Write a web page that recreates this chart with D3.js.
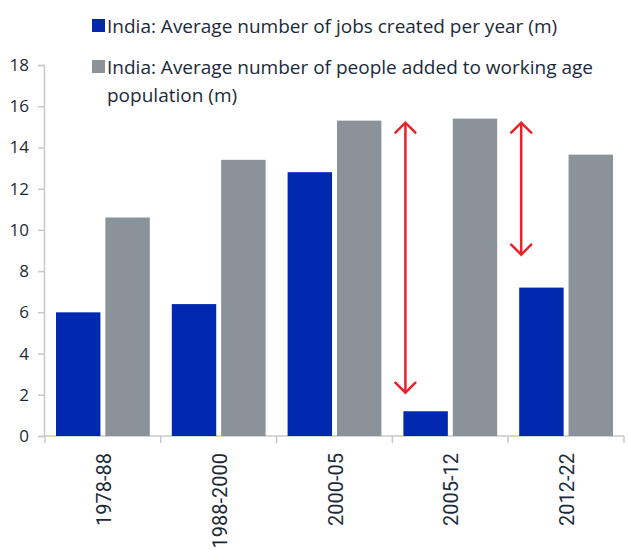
<!DOCTYPE html>
<html>
  <head>
    <style>
      html, body {
        padding: 0;
        margin: 0;
        overflow: hidden;
        background: #ffffff;
      }
      text {
        font-family: "Open Sans", sans-serif;
        fill: #1b2a3a;
      }
      .axis path, .axis line {
        stroke: #c8c8c8;
        stroke-width: 1.5;
      }
    </style>
  </head>
  <body>
    <div id="chart"></div>
    <script src="https://cdnjs.cloudflare.com/ajax/libs/d3/7.8.5/d3.min.js"></script>
    <script>
      // data
      let periods = ['1978-88', '1988-2000', '2000-05', '2005-12', '2012-22']
      let jobsCreated = [6.0, 6.4, 12.8, 1.2, 7.2]
      let workingAgeAdded = [10.6, 13.4, 15.3, 15.4, 13.65]
      let seriesNames = [
        'India: Average number of jobs created per year (m)',
        'India: Average number of people added to working age population (m)'
      ]
      let yTicks = [0, 2, 4, 6, 8, 10, 12, 14, 16, 18]
      // red gap arrows: period, from, to
      let arrowPeriods = ['2005-12', '2012-22']
      let arrowFrom = [2.1, 8.8]
      let arrowTo = [15.2, 15.2]

      let blue = '#0029b0'
      let grey = '#899399'
      let red = '#e8212b'

      let width = 628
      let height = 550
      let margin = { top: 65, left: 45, right: 4, bottom: 114 }

      let svg = d3.select('#chart')
        .append('svg')
        .attr('width', width)
        .attr('height', height)

      let x = d3.scaleBand()
        .domain(periods)
        .range([margin.left, width - margin.right])

      let y = d3.scaleLinear()
        .domain([0, 18])
        .range([height - margin.bottom, margin.top])

      let inner = d3.scaleBand()
        .domain([0, 1])
        .range([11, x.bandwidth() - 11])
        .paddingInner(0.1)

      // y axis
      let yAxis = svg.append('g')
        .attr('class', 'axis')
        .attr('transform', 'translate(' + (margin.left - 1) + ',0)')
        .call(d3.axisLeft(y).tickValues(yTicks).tickSize(6).tickPadding(9))
      yAxis.selectAll('text').style('font-size', '17px')

      // x axis, ticks at band edges
      let xAxis = svg.append('g')
        .attr('class', 'axis')
        .attr('transform', 'translate(0,' + y(0) + ')')
      xAxis.append('line')
        .attr('x1', margin.left - 1).attr('x2', width - margin.right)
        .attr('y1', 0).attr('y2', 0)
      xAxis.selectAll('.edge')
        .data(periods.concat(['end']))
        .enter().append('line')
        .attr('class', 'edge')
        .attr('x1', (d, i) => i < periods.length ? x(d) : x.range()[1])
        .attr('x2', (d, i) => i < periods.length ? x(d) : x.range()[1])
        .attr('y1', 0).attr('y2', 7)
      xAxis.selectAll('.lbl')
        .data(periods)
        .enter().append('text')
        .attr('class', 'lbl')
        .attr('text-anchor', 'end')
        .attr('transform', d => 'translate(' + (x(d) + x.bandwidth() / 2 + 8) + ',17) rotate(-90)')
        .style('font-family', 'Roboto, sans-serif')
        .style('font-size', '20px')
        .text(d => d)

      // bars
      let groups = svg.selectAll('.period')
        .data(periods)
        .enter().append('g')
        .attr('transform', d => 'translate(' + x(d) + ',0)')

      groups.append('rect')
        .attr('x', inner(0))
        .attr('width', inner.bandwidth())
        .attr('y', (d, i) => y(jobsCreated[i]))
        .attr('height', (d, i) => y(0) - y(jobsCreated[i]))
        .attr('fill', blue)

      groups.append('rect')
        .attr('x', inner(1))
        .attr('width', inner.bandwidth())
        .attr('y', (d, i) => y(workingAgeAdded[i]))
        .attr('height', (d, i) => y(0) - y(workingAgeAdded[i]))
        .attr('fill', grey)

      // arrows
      arrowPeriods.forEach(function(p, i) {
        let ax = x(p) + inner(0) + 2
        let y1 = y(arrowTo[i])
        let y2 = y(arrowFrom[i])
        let g = svg.append('g')
          .attr('stroke', red)
          .attr('stroke-width', 2.5)
          .attr('fill', 'none')
          .attr('stroke-linecap', 'round')
        g.append('line').attr('x1', ax).attr('x2', ax).attr('y1', y1 + 1).attr('y2', y2 - 1)
        g.append('path').attr('d', 'M' + (ax - 10) + ',' + (y1 + 10) + 'L' + ax + ',' + y1 + 'L' + (ax + 10) + ',' + (y1 + 10))
        g.append('path').attr('d', 'M' + (ax - 10) + ',' + (y2 - 10) + 'L' + ax + ',' + y2 + 'L' + (ax + 10) + ',' + (y2 - 10))
      })

      // legend
      let legend = svg.append('g')
      legend.append('rect')
        .attr('x', 92).attr('y', 19).attr('width', 13).attr('height', 13)
        .attr('fill', blue)
      legend.append('text')
        .attr('x', 107).attr('y', 33)
        .style('font-size', '19px')
        .text(seriesNames[0])
      legend.append('rect')
        .attr('x', 92).attr('y', 60).attr('width', 13).attr('height', 13)
        .attr('fill', grey)
      let t2 = legend.append('text')
        .attr('x', 107).attr('y', 74)
        .style('font-size', '19px')
      t2.append('tspan').attr('x', 107).text('India: Average number of people added to working age')
      t2.append('tspan').attr('x', 107).attr('dy', 28).text('population (m)')
    </script>
  </body>
</html>
